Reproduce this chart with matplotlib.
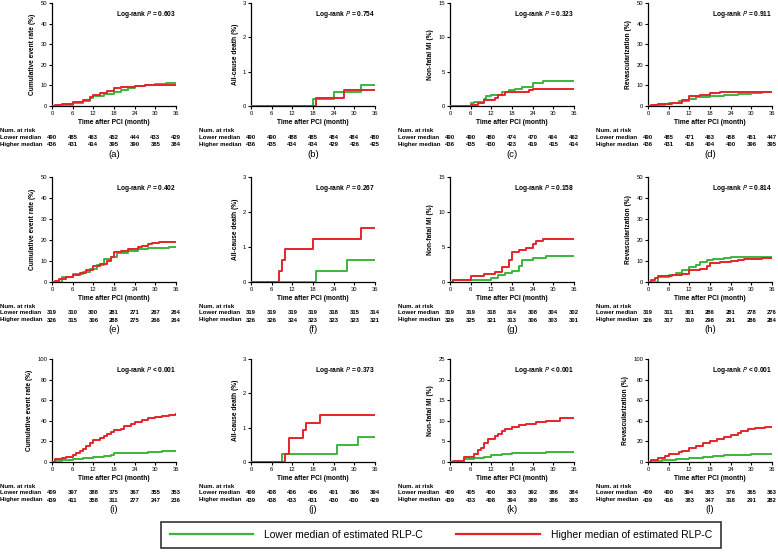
import matplotlib
matplotlib.use("Agg")
import matplotlib.pyplot as plt
from matplotlib.lines import Line2D

plt.rcParams['font.family'] = ['Liberation Sans', 'DejaVu Sans']

GREEN = '#3cb43c'
RED = '#e4252a'

# step curves: (event times, cumulative %) for lower / higher median groups
a_t_low = [0, 3, 6, 9, 11, 12, 15, 18, 20, 22, 24, 27, 30, 33, 36]
a_y_low = [0, 0.5, 1.5, 2.5, 4, 5, 6, 7, 8, 8.5, 9.5, 10, 10.5, 11, 11]
a_t_high = [0, 1, 3, 6, 9, 11, 12, 14, 16, 18, 20, 24, 27, 36]
a_y_high = [0, 0.5, 1, 1.8, 3, 4.5, 5.5, 6.5, 7.5, 8.5, 9, 9.5, 10, 10]

b_t_low = [0, 18, 24, 32, 36]
b_y_low = [0, 0.2, 0.41, 0.61, 0.61]
b_t_high = [0, 19, 27, 36]
b_y_high = [0, 0.23, 0.46, 0.46]

c_t_low = [0, 6, 7, 10, 10.5, 12, 15, 17, 19, 21, 24, 27, 36]
c_y_low = [0, 0.4, 0.6, 1.0, 1.5, 1.6, 2.1, 2.3, 2.5, 2.8, 3.4, 3.6, 3.6]
c_t_high = [0, 6, 8, 10, 13, 14, 16, 18, 23, 24, 36]
c_y_high = [0, 0.2, 0.5, 0.9, 1.2, 1.6, 2.0, 2.1, 2.3, 2.5, 2.5]

d_t_low = [0, 2, 5, 6, 9, 12, 14, 18, 22, 26, 30, 33, 36]
d_y_low = [0, 0.3, 1, 1.5, 2.5, 3.5, 4.3, 5, 5.5, 6, 6.5, 7, 7]
d_t_high = [0, 1, 3, 7, 10, 12, 15, 18, 21, 30, 36]
d_y_high = [0, 0.5, 1, 1.5, 3, 5, 5.5, 6.5, 7, 7, 7]

e_t_low = [0, 3, 6, 9, 11, 13, 15, 17, 19, 22, 25, 28, 34, 36]
e_y_low = [0, 2.5, 4, 5, 6, 8, 11, 12, 14, 15, 15.5, 16, 16.5, 16.5]
e_t_high = [0, 1, 2, 4, 6, 8, 10, 12, 14, 16, 17, 18, 20, 22, 25, 26, 28, 29, 31, 36]
e_y_high = [0, 0.5, 1.5, 2.5, 3.5, 4.5, 5.5, 7.5, 8.5, 10, 12, 14.5, 15, 15.5, 16.5, 17, 18, 18.5, 19, 19]

f_t_low = [0, 19, 28, 36]
f_y_low = [0, 0.31, 0.63, 0.63]
f_t_high = [0, 8, 9, 10, 18, 32, 36]
f_y_high = [0, 0.31, 0.62, 0.93, 1.24, 1.55, 1.55]

g_t_low = [0, 1, 12, 14, 16, 18, 20, 21, 24, 28, 36]
g_y_low = [0, 0.3, 0.6, 1.0, 1.3, 1.6, 2.3, 3.2, 3.4, 3.7, 3.7]
g_t_high = [0, 1, 6, 10, 13, 15, 17, 18, 20, 22, 24, 25, 27, 36]
g_y_high = [0, 0.3, 0.9, 1.2, 1.5, 2.1, 3.1, 4.3, 4.6, 4.9, 5.5, 5.8, 6.2, 6.2]

h_t_low = [0, 3, 6, 8, 10, 12, 14, 15, 17, 19, 22, 24, 36]
h_y_low = [0, 2.5, 3.5, 4.5, 5.5, 7, 8, 9.5, 10.5, 11, 11.5, 11.8, 11.8]
h_t_high = [0, 1, 2, 3, 7, 10, 12, 15, 17, 18, 21, 24, 26, 28, 33, 36]
h_y_high = [0, 1, 2, 3, 3.5, 4, 5.5, 6, 7.5, 9, 9.5, 10, 10.5, 11, 11.5, 11.5]

i_t_low = [0, 1, 3, 6, 9, 12, 15, 17, 18, 24, 28, 32, 36]
i_y_low = [0, 1, 2, 3, 4, 5, 6, 7, 8.5, 9, 10, 11, 11]
i_t_high = [0, 1, 3, 4, 6, 7, 8, 9, 10, 11, 12, 14, 15, 16, 17, 18, 20, 21, 23, 24, 26, 28, 30, 32, 34, 36]
i_y_high = [0, 2.5, 3.5, 5, 7, 9, 11, 13, 15.5, 18, 21, 23, 25, 27, 29, 31, 32.5, 35, 37, 39, 41, 42.5, 44, 45, 46, 46.5]

j_t_low = [0, 9, 25, 31, 36]
j_y_low = [0, 0.24, 0.49, 0.73, 0.73]
j_t_high = [0, 10, 11, 15, 16, 20, 36]
j_y_high = [0, 0.23, 0.69, 0.92, 1.15, 1.38, 1.38]

k_t_low = [0, 2, 4, 7, 10, 12, 15, 18, 24, 28, 36]
k_y_low = [0, 0.3, 0.7, 1.0, 1.3, 1.6, 1.9, 2.1, 2.2, 2.5, 2.5]
k_t_high = [0, 1, 4, 7, 8, 9, 10, 11, 13, 14, 15, 16, 18, 20, 22, 25, 28, 32, 36]
k_y_high = [0, 0.3, 1.2, 2, 3, 3.5, 4.5, 5.7, 6.2, 6.8, 7.5, 8, 8.5, 9, 9.3, 9.6, 10, 10.6, 10.6]

l_t_low = [0, 1, 4, 8, 12, 16, 19, 22, 26, 30, 36]
l_y_low = [0, 1, 2, 3, 4, 5, 6, 6.5, 7, 7.5, 7.5]
l_t_high = [0, 1, 3, 5, 6, 9, 10, 12, 14, 16, 18, 20, 22, 24, 26, 27, 29, 31, 34, 36]
l_y_high = [0, 2, 4, 6, 8, 10, 11, 14, 16, 18, 20, 22, 24, 26, 28, 30, 32, 33, 34, 34]

# numbers at risk at 0, 6, ..., 36 months
risk_times = [0, 6, 12, 18, 24, 30, 36]
a_risk_low = [490, 485, 463, 452, 444, 433, 429]
a_risk_high = [436, 431, 414, 395, 390, 385, 384]
b_risk_low = [490, 490, 488, 485, 484, 484, 480]
b_risk_high = [436, 435, 434, 434, 429, 426, 425]
c_risk_low = [490, 490, 480, 474, 470, 464, 462]
c_risk_high = [436, 435, 430, 423, 419, 415, 414]
d_risk_low = [490, 485, 471, 463, 458, 451, 447]
d_risk_high = [436, 431, 418, 404, 400, 396, 395]
e_risk_low = [319, 310, 300, 281, 271, 267, 264]
e_risk_high = [326, 315, 306, 288, 275, 266, 264]
f_risk_low = [319, 319, 319, 319, 318, 315, 314]
f_risk_high = [326, 326, 324, 323, 323, 323, 321]
g_risk_low = [319, 319, 318, 314, 308, 304, 302]
g_risk_high = [326, 325, 321, 313, 306, 303, 301]
h_risk_low = [319, 311, 301, 286, 281, 278, 276]
h_risk_high = [326, 317, 310, 298, 291, 286, 284]
i_risk_low = [409, 397, 388, 375, 367, 355, 353]
i_risk_high = [439, 411, 358, 311, 277, 247, 236]
j_risk_low = [409, 408, 406, 406, 401, 396, 394]
j_risk_high = [439, 438, 433, 431, 430, 430, 429]
k_risk_low = [409, 405, 400, 393, 392, 386, 384]
k_risk_high = [439, 433, 408, 394, 389, 386, 383]
l_risk_low = [409, 400, 394, 383, 376, 365, 363]
l_risk_high = [439, 416, 383, 347, 318, 291, 282]

y_labels = ['Cumulative event rate (%)', 'All-cause death (%)', 'Non-fatal MI (%)', 'Revascularization (%)']
p_texts = ['= 0.603', '= 0.754', '= 0.323', '= 0.911', '= 0.402', '= 0.267', '= 0.158', '= 0.814',
           '< 0.001', '= 0.373', '< 0.001', '< 0.001']
y_max = [50, 3, 15, 50, 50, 3, 15, 50, 100, 3, 25, 100]
y_step = [10, 1, 5, 10, 10, 1, 5, 10, 20, 1, 5, 20]
letters = list('abcdefghijkl')

curves = [
    (a_t_low, a_y_low, a_t_high, a_y_high), (b_t_low, b_y_low, b_t_high, b_y_high),
    (c_t_low, c_y_low, c_t_high, c_y_high), (d_t_low, d_y_low, d_t_high, d_y_high),
    (e_t_low, e_y_low, e_t_high, e_y_high), (f_t_low, f_y_low, f_t_high, f_y_high),
    (g_t_low, g_y_low, g_t_high, g_y_high), (h_t_low, h_y_low, h_t_high, h_y_high),
    (i_t_low, i_y_low, i_t_high, i_y_high), (j_t_low, j_y_low, j_t_high, j_y_high),
    (k_t_low, k_y_low, k_t_high, k_y_high), (l_t_low, l_y_low, l_t_high, l_y_high),
]
risks = [
    (a_risk_low, a_risk_high), (b_risk_low, b_risk_high), (c_risk_low, c_risk_high),
    (d_risk_low, d_risk_high), (e_risk_low, e_risk_high), (f_risk_low, f_risk_high),
    (g_risk_low, g_risk_high), (h_risk_low, h_risk_high), (i_risk_low, i_risk_high),
    (j_risk_low, j_risk_high), (k_risk_low, k_risk_high), (l_risk_low, l_risk_high),
]

W, H = 778, 554
fig = plt.figure(figsize=(W / 100, H / 100), dpi=100)

col_left = [52, 251, 450, 648]
col_w = 124
row_top = [3, 177, 359]
row_bot = [106, 282, 462]
row_names = ['Num. at risk', 'Lower median', 'Higher median']

for n in range(12):
    r, c = divmod(n, 4)
    x0 = col_left[c]
    ax = fig.add_axes([x0 / W, 1 - row_bot[r] / H, col_w / W, (row_bot[r] - row_top[r]) / H])
    tl, yl, th, yh = curves[n]
    ax.step(tl, yl, where='post', color=GREEN, lw=1.4, zorder=3)
    ax.step(th, yh, where='post', color=RED, lw=1.4, zorder=3)

    ax.set_xlim(0, 36)
    ax.set_ylim(0, y_max[n])
    ax.set_xticks(risk_times)
    ax.set_yticks(range(0, y_max[n] + 1, y_step[n]))
    for s in ['top', 'right']:
        ax.spines[s].set_visible(False)
    for s in ['left', 'bottom']:
        ax.spines[s].set_linewidth(0.9)
    ax.tick_params(labelsize=4.2, length=2, width=0.8, pad=1.5)
    ax.set_ylabel(y_labels[c], fontsize=4.8, fontweight='bold', labelpad=3)
    ax.set_xlabel('Time after PCI (month)', fontsize=4.8, fontweight='bold', labelpad=2)

    ax.text(1.0, 0.89, 'Log-rank $\\it{P}$ ' + p_texts[n],
            transform=ax.transAxes, fontsize=4.8, fontweight='bold', ha='right', va='center')

    # risk table
    low, high = risks[n]
    for name, dy in zip(row_names, [-24, -31, -38]):
        ax.annotate(name, xy=(0, 0), xycoords='axes fraction', xytext=(-52, dy),
                    textcoords='offset pixels', fontsize=4.4, fontweight='bold', ha='left', va='center')
    for t, vl, vh in zip(risk_times, low, high):
        ax.annotate(str(vl), xy=(t, 0), xycoords=('data', 'axes fraction'), xytext=(0, -31),
                    textcoords='offset pixels', fontsize=4.2, fontweight='bold', ha='center', va='center')
        ax.annotate(str(vh), xy=(t, 0), xycoords=('data', 'axes fraction'), xytext=(0, -38),
                    textcoords='offset pixels', fontsize=4.2, fontweight='bold', ha='center', va='center')
    ax.annotate('(' + letters[n] + ')', xy=(0.5, 0), xycoords='axes fraction', xytext=(0, -48),
                textcoords='offset pixels', fontsize=6.8, ha='center', va='center')

handles = [Line2D([], [], color=GREEN, lw=1.6), Line2D([], [], color=RED, lw=1.6)]
leg = fig.legend(handles, ['Lower median of estimated RLP-C', 'Higher median of estimated RLP-C'],
                 loc='center', bbox_to_anchor=(441 / W, 1 - 535 / H), ncol=2, fontsize=7.5,
                 handlelength=8, columnspacing=3.2, handletextpad=1.1, frameon=True, fancybox=False,
                 borderpad=0.8)
leg.get_frame().set_edgecolor('black')
leg.get_frame().set_linewidth(1.2)

fig.savefig('out.png', dpi=100)
